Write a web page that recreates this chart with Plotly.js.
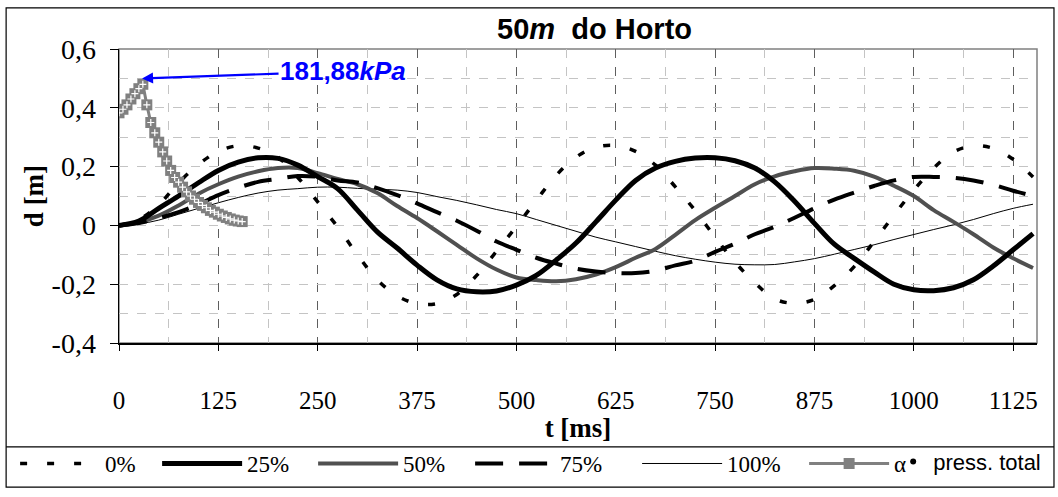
<!DOCTYPE html>
<html><head><meta charset="utf-8">
<script src="https://cdn.plot.ly/plotly-3.0.1.min.js"></script>
<style>html,body{margin:0;padding:0;background:#fff}#chart{width:1058px;height:497px}</style>
</head><body><div id="chart"></div>
<script>
// time axis (ms)
const t = [0,25,50,75,100,125,150,175,200,225,250,275,300,325,350,375,400,425,450,475,500,525,550,575,600,625,650,675,700,725,750,775,800,825,850,875,900,925,950,975,1000,1025,1050,1075,1100,1125,1150];
// displacement d [m] per series
const d0 = [0,0.02,0.07,0.145,0.207,0.252,0.271,0.263,0.232,0.163,0.08,-0.005,-0.1,-0.185,-0.24,-0.266,-0.266,-0.235,-0.17,-0.088,-0.003,0.085,0.17,0.232,0.266,0.272,0.252,0.205,0.131,0.05,-0.04,-0.125,-0.195,-0.25,-0.265,-0.252,-0.205,-0.14,-0.055,0.035,0.12,0.195,0.25,0.271,0.262,0.225,0.165];
const d25 = [0,0.015,0.058,0.1,0.145,0.187,0.215,0.23,0.228,0.205,0.166,0.125,0.052,-0.022,-0.077,-0.135,-0.185,-0.216,-0.226,-0.223,-0.203,-0.17,-0.118,-0.06,0.012,0.086,0.153,0.195,0.218,0.229,0.23,0.22,0.195,0.148,0.082,0.007,-0.064,-0.112,-0.158,-0.2,-0.219,-0.222,-0.212,-0.185,-0.138,-0.083,-0.028];
const d50 = [0,0.01,0.033,0.068,0.108,0.14,0.166,0.184,0.195,0.195,0.178,0.158,0.14,0.11,0.066,0.025,-0.02,-0.066,-0.112,-0.15,-0.177,-0.186,-0.19,-0.183,-0.167,-0.142,-0.11,-0.08,-0.032,0.018,0.06,0.1,0.14,0.167,0.184,0.195,0.193,0.186,0.166,0.135,0.1,0.052,0.012,-0.03,-0.075,-0.112,-0.145];
const d75 = [0,0.008,0.025,0.045,0.072,0.103,0.128,0.148,0.158,0.168,0.165,0.153,0.146,0.127,0.103,0.075,0.045,0.016,-0.018,-0.055,-0.083,-0.11,-0.13,-0.147,-0.157,-0.162,-0.162,-0.154,-0.136,-0.12,-0.09,-0.062,-0.03,-0.005,0.026,0.058,0.088,0.112,0.134,0.153,0.165,0.165,0.162,0.153,0.138,0.118,0.1];
const d100 = [0,0.005,0.018,0.038,0.058,0.077,0.095,0.11,0.12,0.125,0.13,0.13,0.126,0.123,0.12,0.112,0.098,0.085,0.07,0.054,0.04,0.02,0.0,-0.02,-0.04,-0.056,-0.072,-0.088,-0.103,-0.115,-0.125,-0.132,-0.134,-0.133,-0.124,-0.113,-0.098,-0.082,-0.066,-0.048,-0.031,-0.014,0.002,0.02,0.04,0.058,0.072];
// alpha series
const tA = [0,5,10,15,20,25,30,35,40,45,50,55,60,65,70,75,80,85,90,95,100,105,110,115,120,125,130,135,140,145,150,155];
const dA = [0.383,0.395,0.41,0.43,0.448,0.465,0.48,0.41,0.35,0.315,0.283,0.25,0.219,0.187,0.163,0.147,0.13,0.114,0.1,0.089,0.078,0.068,0.06,0.051,0.045,0.038,0.032,0.027,0.022,0.018,0.015,0.013];
// total pressure point
const tP = [30];
const dP = [0.48];
const peakLabel = '181,88<i>kPa</i>';
const seriesNames = ['0%','25%','50%','75%','100%','α','press. total'];
const xTickVals = [0,125,250,375,500,625,750,875,1000,1125];
const xTickText = ['0','125','250','375','500','625','750','875','1000','1125'];
const yTickVals = [-0.4,-0.2,0,0.2,0.4,0.6];
const yTickText = ['-0,4','-0,2','0','0,2','0,4','0,6'];

const serif = 'Liberation Serif, Times New Roman, serif';
const sans = 'Liberation Sans, Arial, sans-serif';
const sp = {shape:'spline', smoothing:1};

const traces = [
  {x:tP, y:dP, mode:'markers', name:seriesNames[6], legend:'legend2',
   marker:{color:'#000', size:6, symbol:'circle'}},
  {x:t, y:d100, mode:'lines', name:seriesNames[4], line:Object.assign({color:'#000', width:1}, sp), legendrank:5, legendwidth:72},
  {x:t, y:d50, mode:'lines', name:seriesNames[2], line:Object.assign({color:'#505050', width:4}, sp), legendrank:3, legendwidth:62},
  {x:t, y:d75, mode:'lines', name:seriesNames[3], line:Object.assign({color:'#000', width:4, dash:'28px,16px'}, sp), legendrank:4, legendwidth:72},
  {x:t, y:d0, mode:'lines', name:seriesNames[0], line:Object.assign({color:'#000', width:3.5, dash:'7px,20px'}, sp), legendrank:1, legendwidth:47},
  {x:t, y:d25, mode:'lines', name:seriesNames[1], line:Object.assign({color:'#000', width:5}, sp), legendrank:2, legendwidth:61},
  {x:tA, y:dA, mode:'lines+markers', name:seriesNames[5], legendrank:6,
   line:{color:'#808080', width:3}, marker:{symbol:'square', size:11, color:'#808080'}},
  {x:tA, y:dA, mode:'markers', showlegend:false, hoverinfo:'skip',
   marker:{symbol:'cross-thin', size:5, color:'#fff', line:{color:'#fff', width:1.2}}}
];

const px = v => (v - 119) / 919;      // pixel x -> paper
const py = v => (349 - v) / 300;      // pixel y -> paper

const layout = {
  width:1058, height:497,
  margin:{l:119, r:20, t:49, b:148},
  paper_bgcolor:'#fff', plot_bgcolor:'#fff',
  showlegend:true,
  title:{text:'<b>50<i>m</i>  do Horto</b>', font:{family:sans, size:29, color:'#000'},
         xref:'paper', x:0.518, xanchor:'center', yref:'container', y:1-29/497, yanchor:'middle'},
  xaxis:{range:[0,1155], tickvals:xTickVals, ticktext:xTickText,
         tickfont:{family:serif, size:25, color:'#000'}, ticks:'outside', ticklen:6, tickcolor:'#000',
         ticklabelstandoff:28,
         showline:true, linecolor:'#000', linewidth:1.5, zeroline:false,
         showgrid:true, gridcolor:'#5e5e5e', griddash:'dash', gridwidth:1,
         minor:{dtick:62.5, tick0:0, showgrid:true, gridcolor:'#c4c4c4', griddash:'dash', ticks:''},
         title:{text:'<b>t [ms]</b>', font:{family:serif, size:27, color:'#000'}, standoff:2}},
  yaxis:{range:[-0.4,0.6], tickvals:yTickVals, ticktext:yTickText,
         tickfont:{family:serif, size:28, color:'#000'}, ticks:'outside', ticklen:8, tickcolor:'#000',
         ticklabelstandoff:8,
         showline:true, linecolor:'#000', linewidth:1.5, zeroline:false,
         showgrid:true, gridcolor:'#c4c4c4', griddash:'dash', gridwidth:1,
         minor:{dtick:0.1, tick0:0, showgrid:true, gridcolor:'#c4c4c4', griddash:'dash', ticks:''},
         title:{text:'<b>d [m]</b>', font:{family:serif, size:27, color:'#000'}, standoff:0}},
  legend:{orientation:'h', x:px(15), xanchor:'left', y:py(472), yanchor:'middle',
          itemwidth:80, font:{family:serif, size:23, color:'#000'}, bgcolor:'rgba(0,0,0,0)',
          traceorder:'normal', tracegroupgap:0},
  legend2:{orientation:'h', x:px(894), xanchor:'left', y:py(470), yanchor:'middle',
          itemwidth:30, font:{family:sans, size:22, color:'#000'}, bgcolor:'rgba(0,0,0,0)'},
  annotations:[
    {x:29, y:0.5, xref:'x', yref:'y', text:'<b>'+peakLabel+'</b>', showarrow:true,
     ax:201, ay:-7, axref:'pixel', ayref:'pixel',
     arrowhead:2, arrowsize:1, arrowwidth:2.2, arrowcolor:'#0000ff',
     font:{family:sans, size:26, color:'#0000ff'}}
  ],
  shapes:[
    {type:'rect', xref:'paper', yref:'paper', x0:0, x1:1, y0:0, y1:1, line:{color:'#808080', width:1.5}, layer:'below'},
    {type:'rect', xref:'paper', yref:'paper', x0:px(6), x1:px(1055), y0:py(7), y1:py(496), line:{color:'#000', width:1.2}},
    {type:'line', xref:'paper', yref:'paper', x0:px(6), x1:px(1055), y0:py(455), y1:py(455), line:{color:'#000', width:1.2}}
  ]
};

Plotly.newPlot('chart', traces, layout, {displayModeBar:false, staticPlot:true});
</script>
</body></html>
